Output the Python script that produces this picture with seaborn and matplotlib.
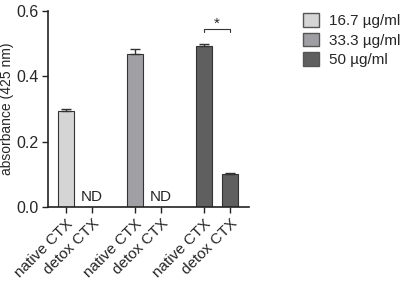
import matplotlib
matplotlib.use("Agg")
import matplotlib.pyplot as plt
import seaborn as sns
import numpy as np
import pandas as pd
from matplotlib.patches import Patch

sns.set_theme(style="ticks")
plt.rcParams['font.family'] = ['Liberation Sans', 'DejaVu Sans']

# data
doses = ["16.7 \u00b5g/ml", "33.3 \u00b5g/ml", "50 \u00b5g/ml"]
samples = ["native CTX", "detox CTX"]
native_mean = [0.295, 0.470, 0.493]
native_err = [0.005, 0.013, 0.007]
detox_mean = [0.0, 0.0, 0.102]
detox_err = [0.0, 0.0, 0.002]
detected = [False, False, True]
colors = ["#d5d5d5", "#a0a0a4", "#5f5f5f"]

# layout of bars: two per dose group
gap = 2.65
rows = []
for i, d in enumerate(doses):
    rows.append(dict(pos=i * gap, dose=d, sample=samples[0], mean=native_mean[i], err=native_err[i], nd=False))
    rows.append(dict(pos=i * gap + 1, dose=d, sample=samples[1], mean=detox_mean[i], err=detox_err[i], nd=not detected[i]))
df = pd.DataFrame(rows)

fig = plt.figure(figsize=(4.01, 2.85), dpi=100)
ax = fig.add_axes([0.12, 0.274, 0.501, 0.687])

sns.barplot(data=df, x="pos", y="mean", hue="dose", palette=colors, native_scale=True,
            width=0.62, edgecolor="#333333", linewidth=0.8, dodge=False, legend=False, ax=ax)

for _, r in df.iterrows():
    if r["nd"]:
        ax.text(r["pos"], 0.008, "ND", ha="center", va="bottom", fontsize=11)
    else:
        ax.errorbar(r["pos"], r["mean"], yerr=[[0], [r["err"]]], fmt="none",
                    ecolor="#333333", elinewidth=1, capsize=3.5, capthick=1)

# significance bracket
x1, x2 = df["pos"].iloc[4], df["pos"].iloc[5]
yb = 0.545
ax.plot([x1, x1, x2, x2], [yb - 0.01, yb, yb, yb - 0.01], color="#333333", lw=0.8)
ax.text((x1 + x2) / 2, yb - 0.006, "*", ha="center", va="bottom", fontsize=11)

ax.set_xlim(df["pos"].min() - 0.69, df["pos"].max() + 0.73)
ax.set_ylim(0, 0.6)
ax.set_yticks([0, 0.2, 0.4, 0.6])
ax.set_yticklabels(["0.0", "0.2", "0.4", "0.6"], fontsize=11.5)
ax.set_xticks(df["pos"])
ax.set_xticklabels(df["sample"], rotation=45, ha="right", rotation_mode="anchor", fontsize=11)
ax.set_xlabel("")
ax.set_ylabel("absorbance (425 nm)", fontsize=10, labelpad=1.5)
ax.tick_params(axis="both", length=4.5, width=1, color="#222222", pad=2.5)
for s in ["left", "bottom"]:
    ax.spines[s].set_linewidth(1.2)
    ax.spines[s].set_color("#222222")
sns.despine(ax=ax)

handles = [Patch(facecolor=c, edgecolor="#555555", label=d) for c, d in zip(colors, doses)]
fig.legend(handles=handles, loc="upper left", bbox_to_anchor=(303 / 401, 1 - 13 / 285), frameon=False,
           fontsize=11, handlelength=1.05, handleheight=1.0, handletextpad=0.65, labelspacing=0.3,
           borderpad=0, borderaxespad=0)

fig.savefig("out.png", dpi=100)
